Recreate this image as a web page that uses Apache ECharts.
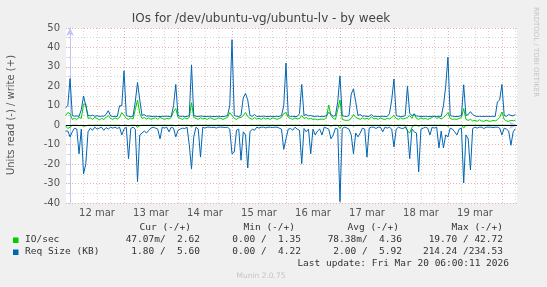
<!DOCTYPE html>
<html><head><meta charset="utf-8">
<script src="https://cdn.jsdelivr.net/npm/echarts@6/dist/echarts.min.js"></script>
<style>html,body{margin:0;padding:0;background:#f0f0f0}#c{width:547px;height:287px}</style>
</head><body><div id="c"></div><script>
// sample hours relative to 12 mar 00:00, one sample per hour
const startHour = -2;
const dayLabels = ['12 mar','13 mar','14 mar','15 mar','16 mar','17 mar','18 mar','19 mar'];
const yTickStep = 10;

// IO/sec write (+)
const ioWrite = [5, 6.5,
 6,3,3.5,3,4,3.5,10.7,11,3.5,3.8,3,4,3.5,2.8,3.5,3,4,5,3.5,3,3.8,3.2,4,6.5,
 5,3.5,3,3.8,3.2,8,13,6,3.5,4,3.2,3.8,3,3.5,3.8,3,4,3.5,3,3.5,3.2,4,7,8.6,
 4,3.5,3,3.8,3.2,4,11.6,4,3.5,3,3.8,3.2,3.5,3,3.8,3.5,3,3.2,3.8,3.5,3,3.5,4,6.5,
 5,3.5,3,3.8,4,5,6.5,4.5,3.5,3,4,3.2,3.5,3,3.8,3.2,3.5,3,3.8,3.5,3,3.5,4,6,
 6.5,4,3.5,3,3.8,3.2,3.5,5,3.5,4,3.2,3.5,3,3.2,2.8,3,3.2,3,4,10.4,5,3.5,3,8,
 13,3,2.6,2.5,2.6,3.5,5.5,4,3.5,3,3.8,3.2,3.5,3,4.5,3.2,3.5,3,3.8,3.2,3,3.5,3.2,4,
 5,3.5,3,3.8,3.2,3.5,4,5,3.5,6,3.5,3,3.8,3.2,3.5,3,3.5,4,4.8,3.5,4,3.2,4,5,
 6.5,3.5,3,3.2,3,3.5,4,8.6,3,2.5,3,2.2,2.5,2,2.8,2.2,2,2.6,2.2,2,2.5,2.2,2.8,4,
 6.8,3,2.2,2,2.5,2.3,2.62];
// IO/sec read (-)
const ioRead = [0.3, 1.7,
 1,0,0,0,0.2,0,0.5,0.3,0,0,0,0,0,0,0,0,0,0,0,0,0,0,0,0.2,
 0,0,0.3,0,0,0,1,0.2,0,0,0,0,0,0,0,0,0,0,0,0,0,0,0,0.3,
 0,0,0,0,0,0,0.8,0,0,0,0,0,0,0,0,0,0,0,0,0,0,0,0,0,
 0.3,0,0,0,0.2,0,0,0.3,0,0,0,0,0,0,0,0,0,0,0,0,0,0,0,0.3,
 0,0,0,0,0,0,0,0.3,0,0,0,0,0,0,0,0,0,0,0,0,0.5,0,0,0,
 1.7,0,0,0,0,0,0.4,0,0,0,0,0,0,0,0,0,0,0,0,0,0,0,0,0,
 0.3,0,0,0,0,0,3,4,1,0,0,0.5,0,0,0,0,0,0,0,0,0,0,0,0,
 0.5,0,0,0,0,0,0,1.5,0,0,0,0,0,0,0,0,0,0,0,0,0,0,0,0,
 0,0,0,0,0,0,0.047];
// Req Size (KB) write (+)
const reqWrite = [9, 10,
 24,5,4.6,4.8,4.5,8,15,10,5,4.8,5.2,4.6,4.9,4.5,4.7,4.6,5.5,7.5,4.8,4.5,4.6,4.5,10,10,
 28,5,4.6,4.5,4.7,12,22,13,5,5.5,4.6,4.8,4.5,4.5,4.6,4.5,4.5,4.6,4.5,4.7,4.5,4.6,10,21,
 5,4.5,4.6,4.5,4.5,5,31,5,4.6,4.5,4.7,4.6,4.5,4.5,4.6,4.5,4.5,4.5,4.6,4.5,4.5,4.6,5,10,
 44,5,4.6,4.5,5,14,16.4,13,5,4.6,5.5,4.5,4.6,4.5,4.7,4.5,4.5,4.6,4.5,4.5,4.6,4.5,5,10,
 32,5,4.5,4.6,4.5,4.5,6,21,5,5.5,4.8,5,4.6,4.5,4.7,4.5,4.6,4.5,5,6.6,5.5,4.6,5,12,
 25.4,5,4.6,4.5,5,16,18.7,12,5,5.5,4.6,4.8,4.5,4.6,5.5,4.5,4.6,4.5,4.5,4.6,4.5,4.5,6,13,
 23.8,5,4.6,4.5,4.5,5,20,6,5,5.5,4.8,4.6,4.5,4.5,4.6,4.5,4.5,4.6,4.5,4.5,4.6,4.5,10,20,
 35,5,4.6,4.5,4.5,4.6,5,20.8,5,5.5,7,5.5,4.8,4.5,4.6,4.5,4.5,4.6,4.5,4.5,4.6,4.5,12,13,
 21,5,4.6,5.5,5,4.8,5.6];
// Req Size (KB) read (-)
const reqRead = [3, 3,
 6,3.4,1.5,2,14.7,2,25,20,3.4,1.5,2.6,1,2,1.5,1,2.6,1.2,2,1,1.5,1,1.7,1,5,
 2,1,17.2,1.7,1,2,29,5,4,3,4,2.6,1.5,1,1.5,2,7,1,1.5,1,3.4,1,1.5,6,
 2.6,2,1.5,1.7,1,10,22.4,6,1,2,16.4,1,1.5,1,1,1.2,1,1.5,1,1,1,1.2,1,2,
 14.7,13.8,2.6,2,18,3.4,5,22,3.4,2,2.6,1,1.5,1,1,1.4,1,1,1.2,1,1,1.5,2,12.4,
 7,2,1.7,2.6,1,2,2.6,19.8,1.7,3.4,2,14.7,2,5,3,2,5,1,1.5,2,7,5,1.5,2,
 39.3,1.7,1,1.4,2,5,14.7,4,6,4,1.5,2,16.4,1.5,1,1,1.7,1,1,3.4,1,1.5,1,2,
 11.2,2,1,1.5,1.7,1,2.6,17.2,2,3.4,4,24,2,1.5,1,1.5,5,1,1.5,1,11.7,3,11.7,5,
 6,1.5,2,3.4,5,2,1.5,29.7,5,7,23,1.7,1,1.5,1,1,1.7,1,1,1,1.2,1,1,1.5,
 5,1.5,2,3,10.3,3.4,1.8];

const legendNames = ['IO/sec', 'Req Size (KB)'];
const legendColors = ['#00cc00', '#0066b3'];
const colHeaders = ['Cur (-/+)', 'Min (-/+)', 'Avg (-/+)', 'Max (-/+)'];
const legendValues = [
  ['47.07m/  2.62', '0.00 /  1.35', '78.38m/  4.36', '19.70 / 42.72'],
  ['1.80 /  5.60', '0.00 /  4.22', '2.00 /  5.92', '214.24 /234.53']
];
const lastUpdate = 'Last update: Fri Mar 20 06:00:11 2026';

const toPts = (arr, sign) => arr.map((v, i) => [startHour + i, sign * v]);
const RED = '#eab0b0', GREY = '#d6d6d6', AXIS = '#c4c4ee';
const MONO = 'DejaVu Sans Mono', SANS = 'DejaVu Sans';

const graphic = [];
graphic.push({type:'text', left:null, x:261, y:19, style:{text:'IOs for /dev/ubuntu-vg/ubuntu-lv - by week', font:'12px "DejaVu Sans"', fill:'#444', align:'center', verticalAlign:'middle'}});
graphic.push({type:'text', x:536, y:52, rotation:-Math.PI/2, style:{text:'RRDTOOL / TOBI OETIKER', font:'7px "DejaVu Sans"', fill:'#c4c4c4', align:'center', verticalAlign:'middle'}});
graphic.push({type:'text', x:11, y:115, rotation:Math.PI/2, style:{text:'Units read (-) / write (+)', font:'10px "DejaVu Sans"', fill:'#555', align:'center', verticalAlign:'middle'}});
const headX = [191, 295, 399, 503], valX = [200, 301, 402, 503];
colHeaders.forEach((h, i) => graphic.push({type:'text', x:headX[i], y:227.5, style:{text:h, font:'9.5px "DejaVu Sans Mono"', fill:'#333', align:'right', verticalAlign:'middle'}}));
legendNames.forEach((n, r) => {
  const y = 240 + r * 12;
  graphic.push({type:'rect', shape:{x:13, y:y-2.5, width:5.5, height:5.5}, style:{fill:legendColors[r]}});
  graphic.push({type:'text', x:25, y:y, style:{text:n, font:'9.5px "DejaVu Sans Mono"', fill:'#333', align:'left', verticalAlign:'middle'}});
  legendValues[r].forEach((t, i) => graphic.push({type:'text', x:valX[i], y:y, style:{text:t, font:'9.5px "DejaVu Sans Mono"', fill:'#333', align:'right', verticalAlign:'middle'}}));
});
graphic.push({type:'text', x:509, y:263.5, style:{text:lastUpdate, font:'9.5px "DejaVu Sans Mono"', fill:'#333', align:'right', verticalAlign:'middle'}});
graphic.push({type:'text', x:261, y:276.5, style:{text:'Munin 2.0.75', font:'7.5px "DejaVu Sans"', fill:'#c4c4c4', align:'center', verticalAlign:'middle'}});

const chart = echarts.init(document.getElementById('c'), null, {renderer:'canvas'});
chart.setOption({
  animation: false,
  backgroundColor: '#f0f0f0',
  grid: [
    {left:66, right:30, top:28, bottom:84, show:true, backgroundColor:'#ffffff', borderWidth:0, z:0},
    {left:70, right:31.5, top:28, bottom:84, show:false, z:0}
  ],
  xAxis: [
    {gridIndex:0, type:'value', min:-1.8, max:198.7, z:3,
     axisLabel:{show:false}, axisTick:{show:false}, splitLine:{show:false},
     axisLine:{show:true, lineStyle:{color:AXIS, width:1}, symbol:['none','arrow'], symbolSize:[6,8]}},
    {gridIndex:1, type:'value', min:0, max:198, interval:6, z:1,
     axisLine:{show:false}, axisTick:{show:false},
     axisLabel:{formatter: v => (v % 24 === 12) ? dayLabels[(v - 12) / 24] : '', margin:5, color:'#555', fontFamily:SANS, fontSize:10},
     splitLine:{show:true, lineStyle:{color:[RED, GREY, GREY, GREY], type:[1,2], width:1}}}
  ],
  yAxis: [
    {gridIndex:0, type:'value', min:-40, max:50, interval:5, z:1,
     axisLabel:{formatter: v => (v % yTickStep === 0) ? String(v) : '', color:'#555', fontFamily:SANS, fontSize:10, margin:6},
     axisTick:{show:true, length:2, lineStyle:{color:AXIS}},
     axisLine:{show:true, lineStyle:{color:AXIS, width:1}, symbol:['none','arrow'], symbolSize:[6,8]},
     splitLine:{show:true, lineStyle:{color:[RED, GREY], type:[1,2], width:1}}},
    {gridIndex:1, type:'value', min:-40, max:50, show:false}
  ],
  series: [
    {type:'line', name:'IO/sec read', data:toPts(ioRead, -1), symbol:'none', lineStyle:{color:'#00cc00', width:1}, z:2},
    {type:'line', name:'IO/sec write', data:toPts(ioWrite, 1), symbol:'none', lineStyle:{color:'#00cc00', width:1}, z:2},
    {type:'line', name:'Req read', data:toPts(reqRead, -1), symbol:'none', lineStyle:{color:'#0066b3', width:1}, z:3},
    {type:'line', name:'Req write', data:toPts(reqWrite, 1), symbol:'none', lineStyle:{color:'#0066b3', width:1}, z:3,
     markLine:{silent:true, symbol:['none','none'], label:{show:false}, lineStyle:{color:'#000', type:'solid', width:1}, data:[{yAxis:0}]}}
  ],
  graphic: graphic
});
</script></body></html>
